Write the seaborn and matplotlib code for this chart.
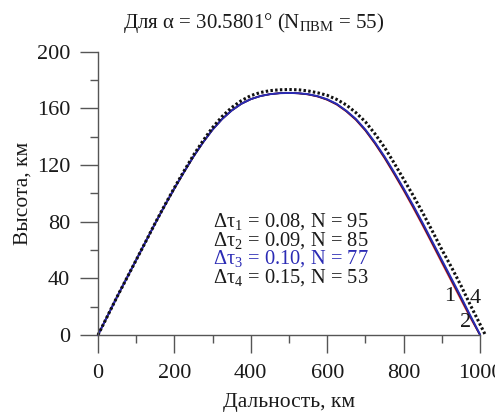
import numpy as np
import pandas as pd
import matplotlib
matplotlib.use("Agg")
import matplotlib.pyplot as plt
import seaborn as sns
from matplotlib.ticker import MultipleLocator

# trajectory points (range km, height km)
range_km = [0, 25, 50, 75, 100, 125, 150, 175, 200, 225, 250, 275, 300,
            325, 350, 375, 400, 425, 450, 475, 500, 525, 550, 575, 600,
            625, 650, 675, 700, 725, 750, 775, 800, 825, 850, 875, 900,
            925, 950, 975, 1000]
h_1 = [0, 13.5, 27, 40, 53, 66, 79, 91.5, 103.5, 115, 126, 136, 145,
       152.5, 158.5, 163.2, 166.5, 168.7, 170, 170.7, 170.9, 170.6, 169.8,
       168.3, 166, 162.6, 157.8, 151.8, 144.2, 135, 124.8, 113.6, 102,
       89.8, 77.2, 64.2, 51, 38, 25, 12, 0]
h_2 = [0, 13.5, 27, 40, 53, 66, 79, 91.5, 103.5, 115, 126, 136, 145,
       152.5, 158.5, 163.2, 166.5, 168.7, 170, 170.7, 170.9, 170.6, 169.9,
       168.5, 166.2, 162.9, 158.1, 152.2, 144.6, 135.5, 125.4, 114.3,
       102.8, 90.8, 78.2, 65.2, 52.2, 39.2, 26.2, 13, 0]
h_3 = [0, 13.5, 27, 40, 53, 66, 79, 91.5, 103.5, 115, 126, 136, 145,
       152.5, 158.5, 163.2, 166.5, 168.7, 170, 170.7, 170.9, 170.7, 170,
       168.6, 166.4, 163.1, 158.3, 152.5, 145, 136, 126, 115, 103.5, 91.5,
       79, 66, 53, 40, 27, 13.5, 0.4]
range_4 = range_km + [1014]
h_4 = [0, 13.5, 27, 40, 53, 66, 79.2, 91.8, 104, 115.7, 127, 137.2, 146.5,
       154.3, 160.6, 165.4, 169, 171.2, 172.5, 173.1, 173.3, 173.1,
       172.3, 171, 169.2, 166.3, 162.4, 157, 150.5, 142, 132.5, 121.5,
       110, 98.5, 86.3, 73.5, 60.3, 48, 35, 21, 7.6, 0]

labels = ["Δτ$_1$ = 0.08, N = 95", "Δτ$_2$ = 0.09, N = 85",
          "Δτ$_3$ = 0.10, N = 77", "Δτ$_4$ = 0.15, N = 53"]
label_colors = ["#1a1a1a", "#1a1a1a", "#2b2bb5", "#1a1a1a"]

sns.set_style("ticks")
plt.rcParams['font.family'] = ['Liberation Serif', 'DejaVu Serif']
plt.rcParams['mathtext.fontset'] = 'custom'
plt.rcParams['mathtext.rm'] = 'Liberation Serif'
plt.rcParams['mathtext.it'] = 'Liberation Serif:italic'
plt.rcParams['mathtext.bf'] = 'Liberation Serif:bold'

fig = plt.figure(figsize=(4.95, 4.12), dpi=100)
ax = fig.add_axes([98 / 495, 77 / 412, 382 / 495, 283.3 / 412])

curves = [
    (h_1, "#d42a3a", 1.2),
    (h_2, "#111111", 1.2),
    (h_3, "#2b2bb5", 1.4),
]
for hs, col, lw in curves:
    df = pd.DataFrame({"x": range_km, "h": hs})
    sns.lineplot(data=df, x="x", y="h", ax=ax, color=col, linestyle="-",
                 linewidth=lw, sort=False, estimator=None, clip_on=False)
df4 = pd.DataFrame({"x": range_4, "h": h_4})
sns.lineplot(data=df4, x="x", y="h", ax=ax, color="#111111",
             linestyle=(0, (0.8, 0.75)), linewidth=2.2, sort=False,
             estimator=None, clip_on=False)

ax.set_xlim(0, 1000)
ax.set_ylim(0, 200)
ax.xaxis.set_major_locator(MultipleLocator(200))
ax.xaxis.set_minor_locator(MultipleLocator(100))
ax.yaxis.set_major_locator(MultipleLocator(40))
ax.yaxis.set_minor_locator(MultipleLocator(20))
sns.despine(ax=ax)
for s in ["left", "bottom"]:
    ax.spines[s].set_color("#555555")
    ax.spines[s].set_linewidth(1.0)
ax.tick_params(axis="both", which="major", length=13, width=1.0,
               color="#555555", labelsize=16, labelcolor="#1a1a1a")
ax.tick_params(axis="both", which="minor", length=6, width=1.0,
               color="#555555")
ax.tick_params(axis="x", which="major", pad=8)
ax.tick_params(axis="y", which="major", pad=7)

ax.set_xlabel("Дальность, км", fontsize=15.5, color="#1a1a1a", labelpad=7)
ax.set_ylabel("Высота, км", fontsize=15.5, color="#1a1a1a", labelpad=3)

fig.text(254 / 495, 1 - 28 / 412, "Для α = 30.5801° (N$_{\\mathrm{ПВМ}}$ = 55)",
         ha="center", va="baseline", fontsize=15, color="#1a1a1a")

for i, (txt, col) in enumerate(zip(labels, label_colors)):
    ax.text(300, 76.5 - 13.1 * i, txt, ha="left", va="baseline",
            fontsize=14.8, color=col)

ax.text(921, 27, "1", ha="center", va="center", fontsize=16, color="#1a1a1a")
ax.text(988, 26, "4", ha="center", va="center", fontsize=16, color="#1a1a1a")
ax.text(961, 8.5, "2", ha="center", va="center", fontsize=16, color="#1a1a1a")

fig.savefig("out.png", dpi=100)
